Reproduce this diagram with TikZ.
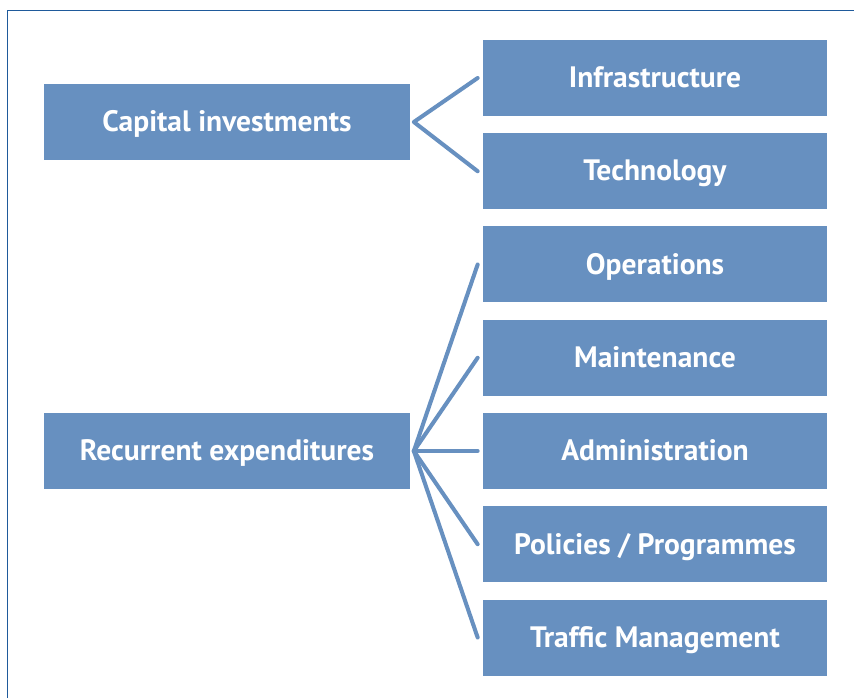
\documentclass[tikz,border=0pt]{standalone}
\usepackage{fontspec}
\setmainfont{PT Sans}
\usepackage{tikz}
\usetikzlibrary{calc, positioning}

\definecolor{boxblue}{RGB}{103,144,192}
\definecolor{framblue}{RGB}{31,90,155}

\begin{document}
\begin{tikzpicture}

\tikzstyle{cost} = [rectangle, fill=boxblue, text=white, font=\fontsize{16.8}{20}\selectfont\bfseries, minimum width=7.32cm, minimum height=1.52cm, inner sep=0pt, text height=0.42cm, text depth=0.03cm];
\tikzstyle{item} = [cost, minimum width=6.88cm];
\tikzstyle{link} = [draw=boxblue, line width=2.3pt, line cap=round, line join=round];

\useasboundingbox (0,0) rectangle (17.08,13.96);

% frame, open at the right and bottom
\draw[framblue, line width=0.6pt] (0.15,0) |- (17.08,13.75);

\node(cap) [cost] at (4.54,11.52) {Capital investments};
\node(rec) [cost] at (4.54,4.94) {Recurrent expenditures};

\node(infra) [item] at (13.1,12.4) {Infrastructure};
\node(tech) [item] at (13.1,10.535) {Technology};

\node(oper) [item] at (13.1,8.67) {Operations};
\node(maint) [item] at (13.1,6.805) {Maintenance};
\node(admin) [item] at (13.1,4.94) {Administration};
\node(policy) [item] at (13.1,3.075) {Policies / Programmes};
\node(traffic) [item] at (13.1,1.21) {Traffic Management};

\coordinate(capfork) at ($(cap.east)+(0.07,0)$);
\coordinate(recfork) at ($(rec.east)+(0.07,0)$);

\draw [link] ([xshift=-0.1cm]infra.west) -- (capfork) -- ([xshift=-0.1cm]tech.west);

\draw [link] (recfork) -- ([xshift=-0.1cm]oper.west);
\draw [link] (recfork) -- ([xshift=-0.1cm]maint.west);
\draw [link] (recfork) -- ([xshift=-0.1cm]admin.west);
\draw [link] (recfork) -- ([xshift=-0.1cm]policy.west);
\draw [link] (recfork) -- ([xshift=-0.1cm]traffic.west);

\end{tikzpicture}
\end{document}
